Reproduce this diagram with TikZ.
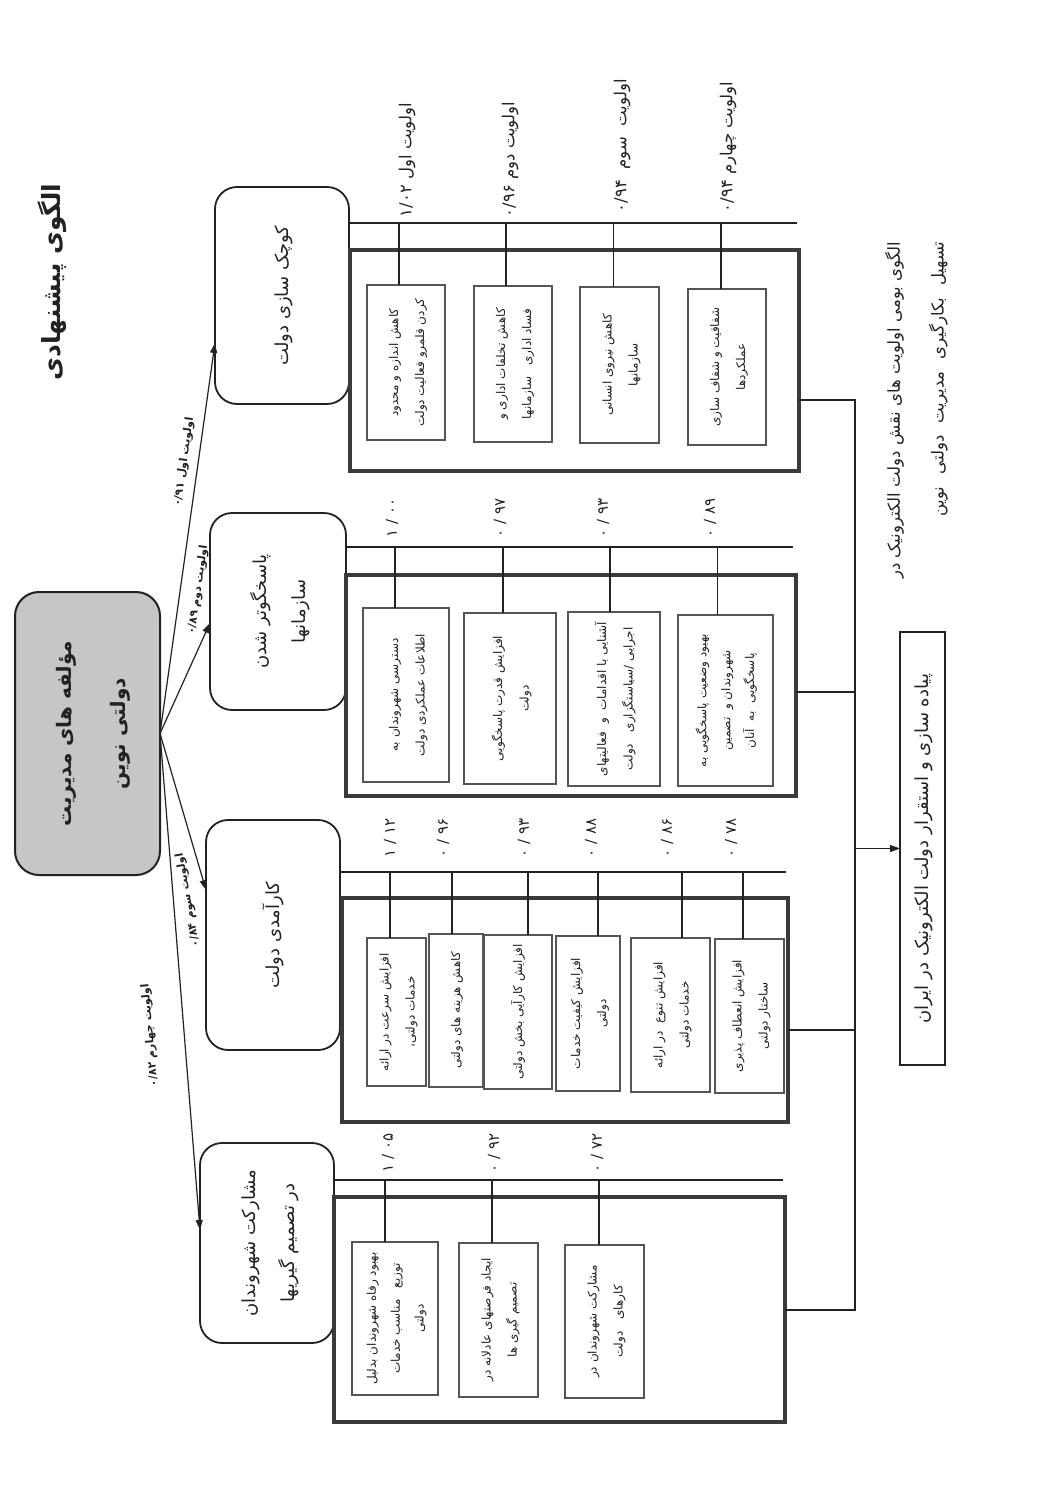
\documentclass[tikz,border=0pt]{standalone}
\usepackage{fontspec}
\usepackage{graphicx}
\usetikzlibrary{arrows.meta,calc}
\TeXXeTstate=1
\newfontfamily\fa[Script=Arabic]{DejaVu Sans}
\newcommand\RL[1]{\beginR #1\endR}
\newcommand\LRn[1]{\beginL #1\endL}
\newcommand\rt[2][1.5]{\rotatebox{90}{\def\arraystretch{#1}\begin{tabular}{@{}c@{}}#2\end{tabular}}}
\newcommand\rtr[2][1.5]{\rotatebox{90}{\def\arraystretch{#1}\begin{tabular}{@{}r@{}}#2\end{tabular}}}
\definecolor{ink}{HTML}{222222}
\definecolor{frm}{HTML}{3A3A3A}
\definecolor{ifrm}{HTML}{555555}
\definecolor{hubfill}{HTML}{C6C6C6}
\tikzset{
  base/.style={inner sep=0pt, outer sep=0pt, text=ink},
  rbox/.style={base, draw=ink, line width=1.8pt, rounded corners=22pt, font=\fa\fontsize{18}{22}\selectfont},
  hubbox/.style={base, draw=ink, line width=2pt, rounded corners=24pt, fill=hubfill, font=\fa\bfseries\fontsize{20}{26}\selectfont},
  gbox/.style={base, draw=frm, line width=4.5pt},
  ibox/.style={base, draw=ifrm, line width=1.3pt, font=\fa\fontsize{12}{14}\selectfont},
  finbox/.style={base, draw=ink, line width=2.5pt, font=\fa\fontsize{18}{21}\selectfont},
  conn/.style={draw=ink, line width=1.2pt},
  arr/.style={conn, -{Triangle[length=10pt,width=7pt]}},
  num/.style={base, font=\fa\fontsize{15}{18}\selectfont, anchor=south},
  prio/.style={base, font=\fa\fontsize{16.5}{19}\selectfont, anchor=south},
  alab/.style={base, font=\fa\bfseries\fontsize{11}{13}\selectfont},
  txt/.style={base, font=\fa\fontsize{16.5}{19}\selectfont},
}
\begin{document}
\begin{tikzpicture}[x=1pt,y=-1pt]
\fill[white] (0,0) rectangle (1047,1509);
\useasboundingbox (0,0) rectangle (1047,1509);

% title
\node[base, font=\fa\bfseries\fontsize{25}{30}\selectfont] (title) at (52,282) {\rotatebox{90}{\RL{الگوی پیشنهادی}}};

% hub
\node[hubbox, minimum width=145pt, minimum height=283pt] (hub) at (87.5,733.5) {\rt[2.1]{\RL{مؤلفه های مدیریت}\\\RL{دولتی نوین}}};

% second-level boxes
\node[rbox, minimum width=134pt, minimum height=217pt] (g1) at (282,295.5) {\rt{\RL{کوچک سازی دولت}}};
\node[rbox, minimum width=136pt, minimum height=197pt] (g2) at (278,611.5) {\rt[1.8]{\RL{پاسخگوتر شدن}\\\RL{سازمانها}}};
\node[rbox, minimum width=134pt, minimum height=230pt] (g3) at (273,935) {\rt{\RL{کارآمدی دولت}}};
\node[rbox, minimum width=134pt, minimum height=200pt] (g4) at (267,1243) {\rt[1.8]{\RL{مشارکت شهروندان}\\\RL{در تصمیم گیریها}}};

% arrows from hub
\draw[arr] (hub.east) -- ([yshift=-47.5pt]g1.west);
\draw[arr] (hub.east) -- ([yshift=-11.5pt]g2.west);
\draw[arr] (hub.east) -- ([yshift=45pt]g3.west);
\draw[arr] (hub.east) -- ([yshift=13pt]g4.west);
\node[alab, rotate=82] (a1) at (184,462) {\RL{اولویت اول \LRn{۰/۹۱}}};
\node[alab, rotate=82] (a2) at (198,590) {\RL{اولویت دوم \LRn{۰/۸۹}}};
\node[alab, rotate=100] (a3) at (188,900) {\RL{اولویت سوم \LRn{۰/۸۴}}};
\node[alab, rotate=95] (a4) at (150,1035) {\RL{اولویت چهارم \LRn{۰/۸۲}}};

% group frames
\node[gbox, minimum width=449pt, minimum height=221pt] (t1) at (574.5,360.5) {};
\node[gbox, minimum width=450pt, minimum height=221pt] (t2) at (571,685.5) {};
\node[gbox, minimum width=446pt, minimum height=224pt] (t3) at (565,1010) {};
\node[gbox, minimum width=451pt, minimum height=225pt] (t4) at (559.5,1309.5) {};

% group 1 items
\node[ibox, minimum width=78pt, minimum height=155pt] (i11) at (406,362.5) {\rt[1.85]{\RL{کاهش اندازه و محدود}\\\RL{کردن قلمرو فعالیت دولت}}};
\node[ibox, minimum width=78pt, minimum height=156pt] (i12) at (513,364) {\rt[1.85]{\RL{کاهش تخلفات اداری و}\\\RL{فساد اداری \ \ سازمانها}}};
\node[ibox, minimum width=79pt, minimum height=156pt] (i13) at (619.5,365) {\rt[1.85]{\RL{کاهش نیروی انسانی}\\\RL{سازمانها}}};
\node[ibox, minimum width=78pt, minimum height=156pt] (i14) at (727,367) {\rt[1.85]{\RL{شفافیت و شفاف سازی}\\\RL{عملکردها}}};

% group 2 items
\node[ibox, minimum width=86pt, minimum height=174pt] (i21) at (406,695) {\rt[1.9]{\RL{دسترسی شهروندان به}\\\RL{اطلاعات عملکردی دولت}}};
\node[ibox, minimum width=92pt, minimum height=171pt] (i22) at (510,698.5) {\rt[1.9]{\RL{افزایش قدرت پاسخگویی}\\\RL{دولت}}};
\node[ibox, minimum width=92pt, minimum height=174pt] (i23) at (614,699) {\rt[1.9]{\RL{آشنایی با اقدامات \ و \ فعالیتهای}\\\RL{اجرایی /سیاستگزاری \ \ دولت}}};
\node[ibox, minimum width=95pt, minimum height=171pt] (i24) at (725.5,700.5) {\rt[1.7]{\RL{بهبود وضعیت پاسخگویی به}\\\RL{شهروندان و \ تضمین}\\\RL{پاسخگویی \ به \ آنان}}};

% group 3 items
\node[ibox, minimum width=59pt, minimum height=148pt] (i31) at (396.5,1012) {\rt[1.85]{\RL{افزایش سرعت در ارائه}\\\RL{خدمات دولتی،}}};
\node[ibox, minimum width=54pt, minimum height=153pt] (i32) at (456,1010.5) {\rt{\RL{کاهش هزینه های دولتی}}};
\node[ibox, minimum width=68pt, minimum height=154pt] (i33) at (518,1012) {\rt{\RL{افزایش کارآیی بخش دولتی}}};
\node[ibox, minimum width=64pt, minimum height=155pt] (i34) at (588,1013.5) {\rt[1.85]{\RL{افزایش کیفیت خدمات}\\\RL{دولتی}}};
\node[ibox, minimum width=79pt, minimum height=154pt] (i35) at (670.5,1015) {\rt[1.85]{\RL{افزایش تنوع \ در ارائه}\\\RL{خدمات دولتی}}};
\node[ibox, minimum width=69pt, minimum height=154pt] (i36) at (749.5,1016) {\rt[1.85]{\RL{افزایش انعطاف پذیری}\\\RL{ساختار دولتی}}};

% group 4 items
\node[ibox, minimum width=86pt, minimum height=153pt] (i41) at (395,1318.5) {\rt[1.7]{\RL{بهبود رفاه شهروندان بدلیل}\\\RL{توزیع \ \ مناسب خدمات}\\\RL{دولتی}}};
\node[ibox, minimum width=79pt, minimum height=154pt] (i42) at (498.5,1320) {\rt[1.85]{\RL{ایجاد فرصتهای عادلانه در}\\\RL{تصمیم گیری ها}}};
\node[ibox, minimum width=79pt, minimum height=153pt] (i43) at (604.5,1321.5) {\rt[1.85]{\RL{مشارکت شهروندان در}\\\RL{کارهای \ \ دولت}}};

% bus lines
\coordinate (b1) at (797,223);
\coordinate (b2) at (793,547);
\coordinate (b3) at (786,872);
\coordinate (b4) at (783,1180);
\draw[conn] (g1.east |- b1) -- (b1);
\draw[conn] (g2.east |- b2) -- (b2);
\draw[conn] (g3.east |- b3) -- (b3);
\draw[conn] (g4.east |- b4) -- (b4);

% ticks
\foreach \n/\s/\b in {i11/-7/b1,i12/-7/b1,i13/-6/b1,i14/-6/b1,
                      i21/-11/b2,i22/-7/b2,i23/-4/b2,i24/-8/b2,
                      i31/-6.5/b3,i32/-4/b3,i33/10/b3,i34/10/b3,i35/11.5/b3,i36/-6.5/b3,
                      i41/-10/b4,i42/-6.5/b4,i43/-5.5/b4}
  \draw[conn] ([xshift=\s pt]\n.north) -- ([xshift=\s pt]\n.north |- \b);

% priority labels group 1
\node[prio] (p11) at (407,217) {\rotatebox{90}{\RL{اولویت اول \LRn{۱/۰۲}}}};
\node[prio] (p12) at (510,217) {\rotatebox{90}{\RL{اولویت دوم \LRn{۰/۹۶}}}};
\node[prio] (p13) at (622,212) {\rotatebox{90}{\RL{اولویت \ سوم \ \LRn{۰/۹۴}}}};
\node[prio] (p14) at (728,212) {\rotatebox{90}{\RL{اولویت چهارم \LRn{۰/۹۴}}}};

% numbers group 2
\node[num] (n21) at (392,537) {\rotatebox{90}{۱ / ۰۰}};
\node[num] (n22) at (500,537) {\rotatebox{90}{۰ / ۹۷}};
\node[num] (n23) at (603,537) {\rotatebox{90}{۰ / ۹۳}};
\node[num] (n24) at (710,537) {\rotatebox{90}{۰ / ۸۹}};
% numbers group 3
\node[num] (n31) at (390,857) {\rotatebox{90}{۱ / ۱۲}};
\node[num] (n32) at (443,857) {\rotatebox{90}{۰ / ۹۶}};
\node[num] (n33) at (524,857) {\rotatebox{90}{۰ / ۹۳}};
\node[num] (n34) at (591,857) {\rotatebox{90}{۰ / ۸۸}};
\node[num] (n35) at (667,857) {\rotatebox{90}{۰ / ۸۶}};
\node[num] (n36) at (731,857) {\rotatebox{90}{۰ / ۷۸}};
% numbers group 4
\node[num] (n41) at (388,1172) {\rotatebox{90}{۱ / ۰۵}};
\node[num] (n42) at (494,1172) {\rotatebox{90}{۰ / ۹۲}};
\node[num] (n43) at (597,1172) {\rotatebox{90}{۰ / ۷۲}};

% final box and collector
\node[finbox, minimum width=45pt, minimum height=433pt] (fin) at (922.5,848.5) {\rt{\RL{پیاده سازی و استقرار دولت الکترونیک در ایران}}};
\coordinate (k1) at (855,400);
\coordinate (k4) at (855,1310);
\coordinate (e1) at ([yshift=-39.5pt]t1.east);
\coordinate (e2) at ([yshift=-6.5pt]t2.east);
\coordinate (e3) at ([yshift=-20pt]t3.east);
\coordinate (e4) at ([yshift=-0.5pt]t4.east);
\draw[conn] (e1) -- (e1 -| k1) -- (k4) -- (e4);
\draw[conn] (e2) -- (e2 -| k1);
\draw[conn] (e3) -- (e3 -| k1);
\draw[arr] (k1 |- fin.west) -- (fin.west);

% caption
\node[txt] (cap) at (913,410) {\rtr[2.3]{\RL{الگوی بومی اولویت های نقش دولت الکترونیک در}\\\RL{تسهیل\hspace{12pt}بکارگیری\hspace{12pt}مدیریت\hspace{12pt}دولتی\hspace{12pt}نوین}}};
\end{tikzpicture}
\end{document}
